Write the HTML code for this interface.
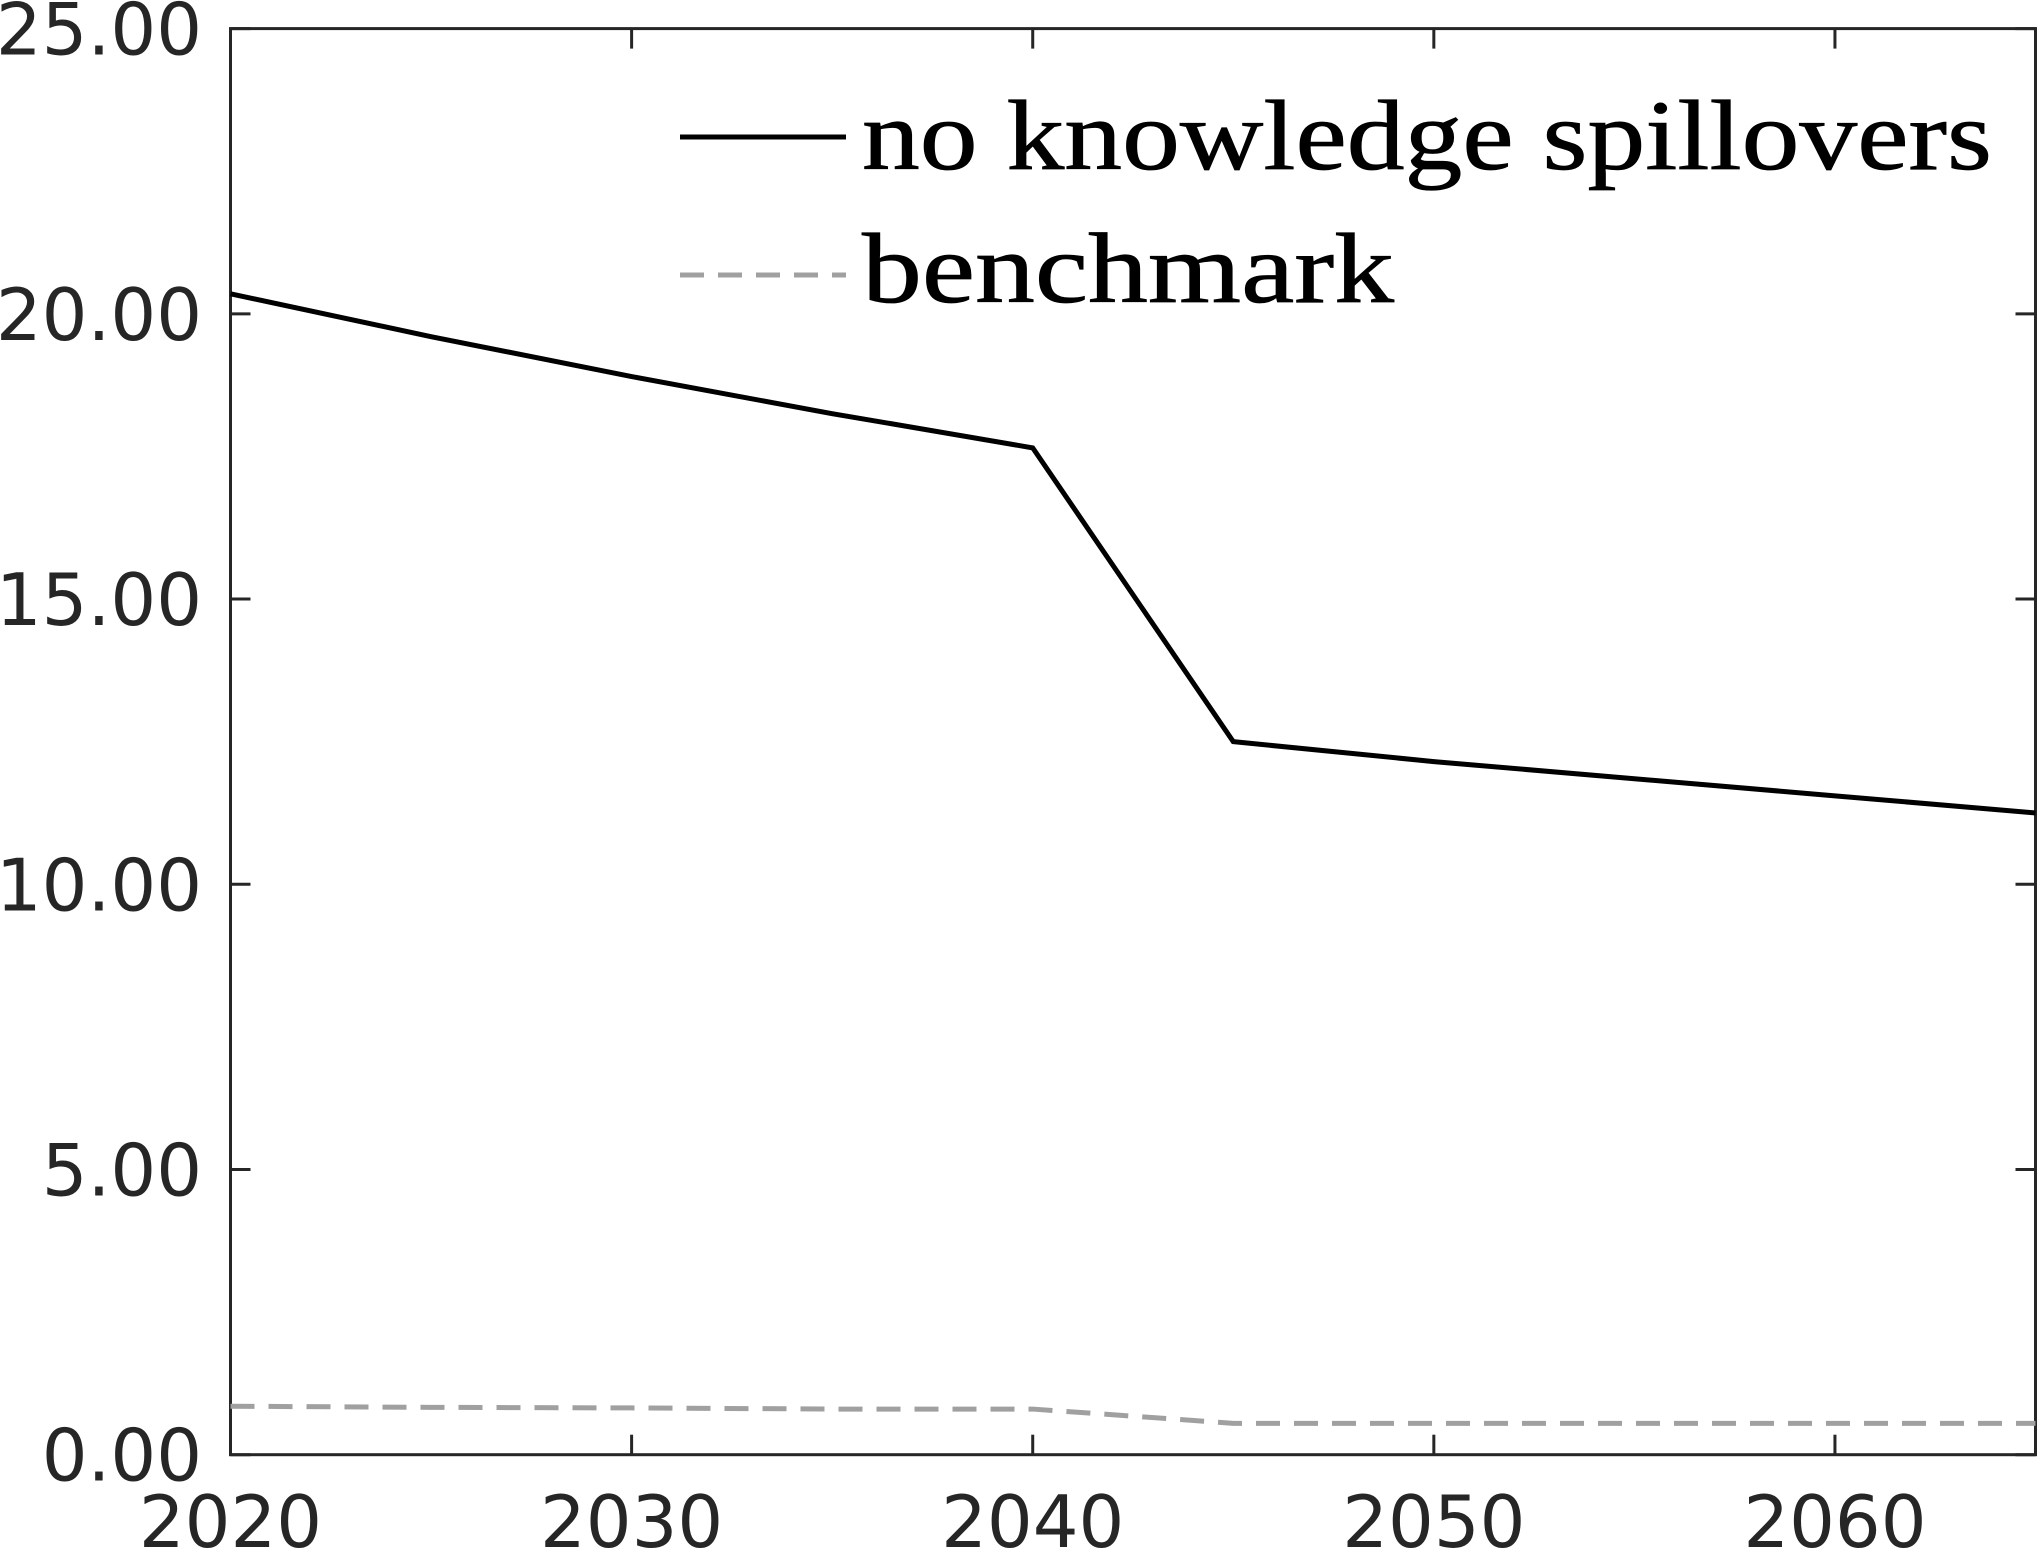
<!DOCTYPE html>
<html><head><meta charset="utf-8"><style>
html,body{margin:0;padding:0;background:#fff;}
svg{display:block;}
</style></head><body>
<svg id="chart" width="2042" height="1554" xmlns="http://www.w3.org/2000/svg"></svg>
<script>
const years = [2020,2025,2030,2035,2040,2045,2050,2055,2060,2065];
const noSpillovers = [20.35,19.6,18.9,18.25,17.65,12.5,12.15,11.85,11.55,11.25];
const benchmark = [0.85,0.83,0.82,0.8,0.8,0.55,0.55,0.55,0.55,0.55];
const yTicks = [0,5,10,15,20,25];
const yTickLabels = ["0.00","5.00","10.00","15.00","20.00","25.00"];
const xTicks = [2020,2030,2040,2050,2060];
const xTickLabels = ["2020","2030","2040","2050","2060"];

const L=230.5,R=2035.5,T=28.6,B=1454.7;
const xS=v=>L+(v-2020)/(2065-2020)*(R-L);
const yS=v=>B-(v/25)*(B-T);
const svg=document.getElementById('chart');
const NS='http://www.w3.org/2000/svg';
function mk(tag,attrs,parent){const e=document.createElementNS(NS,tag);for(const k in attrs)e.setAttribute(k,attrs[k]);(parent||svg).appendChild(e);return e;}

const box=mk('rect',{x:L,y:T,width:R-L,height:B-T,fill:'none',stroke:'#262626','stroke-width':3});



yTicks.forEach((v,i)=>{
  const y=yS(v);
  const t1=mk('line',{x1:L,x2:L+20,y1:y,y2:y,stroke:'#262626','stroke-width':3});
  
  
  const t2=mk('line',{x1:R-20,x2:R,y1:y,y2:y,stroke:'#262626','stroke-width':3});
  
  
  const tx=mk('text',{x:202,y:y+26,'text-anchor':'end','font-family':'DejaVu Sans, Liberation Sans, sans-serif','font-size':72,fill:'#262626'});
  tx.textContent=yTickLabels[i];
  
  
});
xTicks.forEach((v,i)=>{
  const x=xS(v);
  const t1=mk('line',{x1:x,x2:x,y1:B,y2:B-20,stroke:'#262626','stroke-width':3});
  
  
  const t2=mk('line',{x1:x,x2:x,y1:T,y2:T+20,stroke:'#262626','stroke-width':3});
  
  
  const tx=mk('text',{x:x,y:1547,'text-anchor':'middle','font-family':'DejaVu Sans, Liberation Sans, sans-serif','font-size':72,fill:'#262626'});
  tx.textContent=xTickLabels[i];
  
  
});

const pts=arr=>arr.map((v,i)=>xS(years[i])+','+yS(v)).join(' ');
const s1=mk('polyline',{points:pts(noSpillovers),fill:'none',stroke:'#000','stroke-width':5});


const s2=mk('polyline',{points:pts(benchmark),fill:'none',stroke:'#a0a0a0','stroke-width':5,'stroke-dasharray':'24,14'});



const g=mk('g',{});


const l1=mk('line',{x1:680,x2:846,y1:137,y2:137,stroke:'#000','stroke-width':5},g);


const l2=mk('line',{x1:680,x2:846,y1:275,y2:275,stroke:'#a0a0a0','stroke-width':5,'stroke-dasharray':'24,14'},g);


const e1=mk('text',{x:862,y:169,'font-family':'Liberation Serif, serif','font-size':100,fill:'#000',stroke:'#000','stroke-width':0.8,textLength:1130,lengthAdjust:'spacingAndGlyphs'},g);
e1.textContent='no knowledge spillovers';


const e2=mk('text',{x:862,y:302,'font-family':'Liberation Serif, serif','font-size':100,fill:'#000',stroke:'#000','stroke-width':0.8,textLength:532,lengthAdjust:'spacingAndGlyphs'},g);
e2.textContent='benchmark';


</script>
</body></html>
